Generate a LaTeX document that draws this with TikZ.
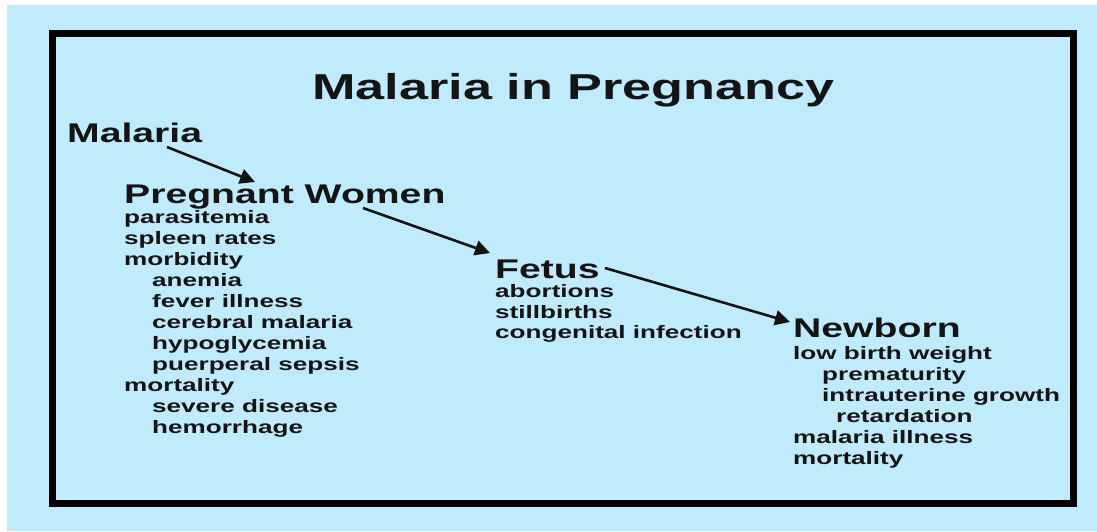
\documentclass[tikz,border=0pt]{standalone}
\usepackage{fontspec}
\setmainfont{Liberation Sans}[FakeStretch=1.45]
\usetikzlibrary{arrows.meta}
\definecolor{bgblue}{RGB}{192,235,253}
\definecolor{ink}{RGB}{20,20,20}
\tikzset{
  ttl/.style={inner sep=0pt, anchor=base west, text=ink, font=\fontsize{36}{40}\selectfont\bfseries},
  hd/.style={inner sep=0pt, anchor=base west, text=ink, font=\fontsize{27}{30}\selectfont\bfseries},
  li/.style={inner sep=0pt, anchor=base west, text=ink, font=\fontsize{18}{21}\selectfont\bfseries},
  arr/.style={draw=ink, line width=2.6pt, -{Triangle[length=15pt,width=15pt]}},
  frame/.style={draw=black, line width=7pt}
}
\begin{document}
\begin{tikzpicture}[x=1pt,y=-1pt]
\useasboundingbox (0,0) rectangle (1097,531);
\fill[white] (0,0) rectangle (1097,531);
\fill[bgblue] (7,5) rectangle (1097,531);
\draw[frame] (52,33) rectangle (1073,503);

\node[ttl] (title) at (312,99) {Malaria in Pregnancy};

\node[hd] (mal) at (67,142) {Malaria};
\node[hd] (pw) at (124,203) {Pregnant Women};
\node[hd] (fet) at (495,278) {Fetus};
\node[hd] (nb) at (793,337) {Newborn};

% Pregnant women list
\foreach \nm/\xx/\yy/\tx in {
  p1/124/223/parasitemia,
  p2/124/244/spleen rates,
  p3/124/265/morbidity,
  p4/152/286/anemia,
  p5/152/307/fever illness,
  p6/152/328/cerebral malaria,
  p7/152/349/hypoglycemia,
  p8/152/370/puerperal sepsis,
  p9/124/391/mortality,
  p10/152/412/severe disease,
  p11/152/433/hemorrhage}
  {\node[li] (\nm) at (\xx,\yy) {\tx};}

% Fetus list
\foreach \nm/\xx/\yy/\tx in {
  f1/495/297/abortions,
  f2/495/318/stillbirths,
  f3/495/338/congenital infection}
  {\node[li] (\nm) at (\xx,\yy) {\tx};}

% Newborn list
\foreach \nm/\xx/\yy/\tx in {
  n1/793/359/low birth weight,
  n2/822/380/prematurity,
  n3/822/401/intrauterine growth,
  n4/836/422/retardation,
  n5/793/443/malaria illness,
  n6/793/464/mortality}
  {\node[li] (\nm) at (\xx,\yy) {\tx};}

\draw[arr] ([shift={(100,5)}]mal.base west) -- ([shift={(131,-21)}]pw.base west);
\draw[arr] ([shift={(239,5)}]pw.base west) -- ([shift={(-5,-25)}]fet.base west);
\draw[arr] ([shift={(110,-10)}]fet.base west) -- ([shift={(-3,-15)}]nb.base west);
\end{tikzpicture}
\end{document}
